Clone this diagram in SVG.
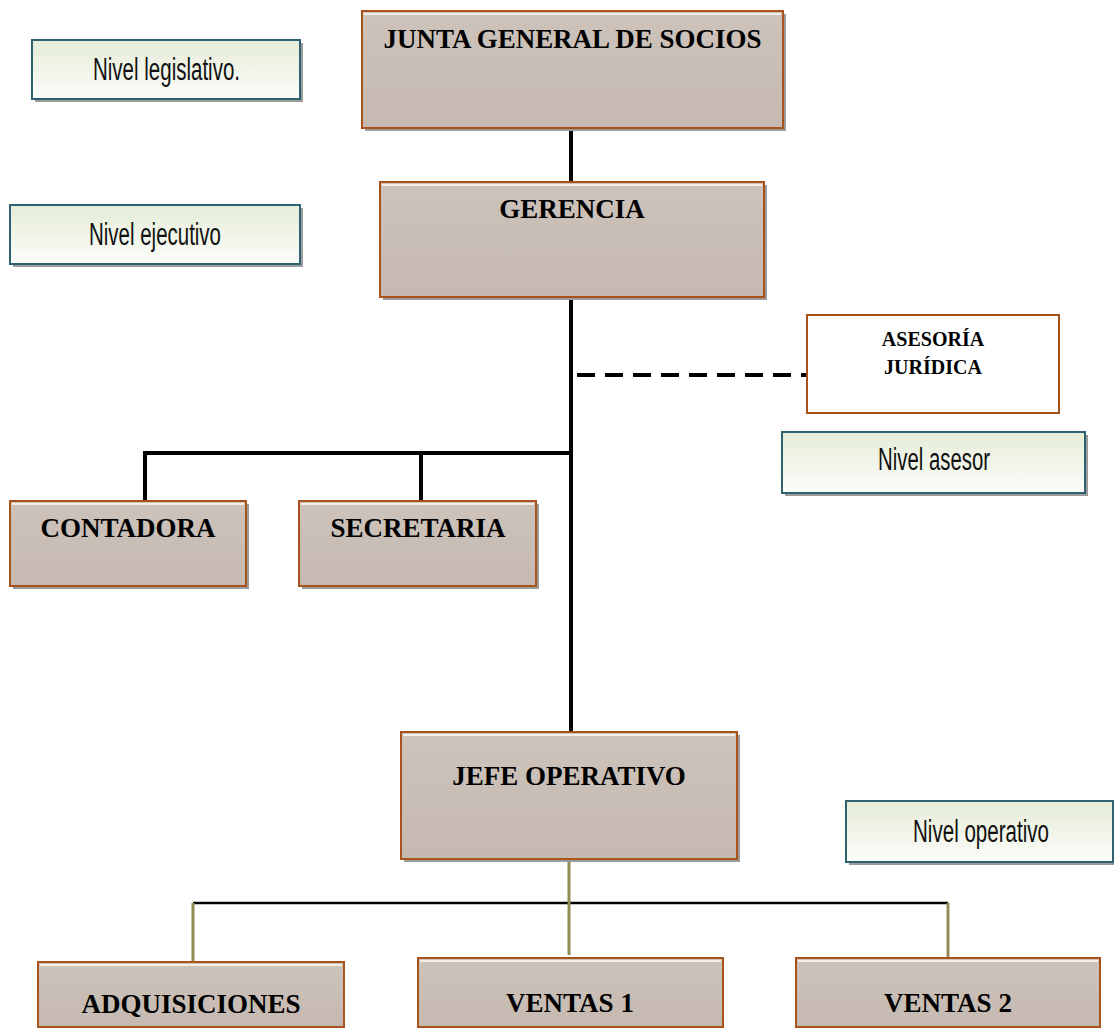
<svg xmlns="http://www.w3.org/2000/svg" width="1114" height="1028" viewBox="0 0 1114 1028">
<defs>
  <linearGradient id="orgFill" x1="0" y1="0" x2="0" y2="1">
    <stop offset="0" stop-color="#cdc3bb"/>
    <stop offset="1" stop-color="#c5b9b1"/>
  </linearGradient>
  <linearGradient id="lvlFill" x1="0" y1="0" x2="0" y2="1">
    <stop offset="0" stop-color="#e5ecd7"/>
    <stop offset="1" stop-color="#fcfdfa"/>
  </linearGradient>
</defs>
<style>
  .shadow { fill: #9c9c9c; }
  .org { fill: url(#orgFill); stroke: #a8531c; stroke-width: 2; }
  .hl { stroke: #f4eee9; stroke-width: 2; }
  .lvl { fill: url(#lvlFill); stroke: #2f6171; stroke-width: 2; }
  .adv { fill: #ffffff; stroke: #a8531c; stroke-width: 2; }
  .t { font-family: "Liberation Serif", "Times New Roman", serif; font-weight: bold; font-size: 27px; fill: #000; text-anchor: middle; }
  .ts { font-family: "Liberation Serif", "Times New Roman", serif; font-weight: bold; font-size: 20px; fill: #000; text-anchor: middle; }
  .lv { font-family: "Liberation Sans", Arial, sans-serif; font-size: 31px; fill: #111; text-anchor: middle; }
  .blk { stroke: #000; stroke-width: 4; fill: none; }
  .olive { stroke: #948a54; stroke-width: 3; fill: none; }
</style>

<g id="connectors">
  <line class="blk" x1="571" y1="128" x2="571" y2="182"/>
  <line class="blk" x1="571" y1="297" x2="571" y2="732"/>
  <line class="blk" x1="577" y1="375" x2="807" y2="375" stroke-dasharray="18 10"/>
  <polyline class="blk" points="145,501 145,453 571,453"/>
  <line class="blk" x1="421" y1="453" x2="421" y2="501"/>
  <line x1="193" y1="903" x2="948" y2="903" stroke="#000" stroke-width="2.5"/>
  <line class="olive" x1="569" y1="860" x2="569" y2="955"/>
  <line class="olive" x1="193" y1="903" x2="193" y2="966"/>
  <line class="olive" x1="948" y1="903" x2="948" y2="966"/>
</g>

<g id="nivel-legislativo">
  <rect class="shadow" x="35" y="43" width="268" height="59"/>
  <rect class="lvl" x="32" y="40" width="268" height="59"/>
  <text class="lv" x="166.5" y="80" textLength="147" lengthAdjust="spacingAndGlyphs">Nivel legislativo.</text>
</g>

<g id="nivel-ejecutivo">
  <rect class="shadow" x="13" y="208" width="290" height="59"/>
  <rect class="lvl" x="10" y="205" width="290" height="59"/>
  <text class="lv" x="155" y="245" textLength="132" lengthAdjust="spacingAndGlyphs">Nivel ejecutivo</text>
</g>

<g id="nivel-asesor">
  <rect class="shadow" x="785" y="435" width="303" height="61"/>
  <rect class="lvl" x="782" y="432" width="303" height="61"/>
  <text class="lv" x="934" y="470" textLength="112" lengthAdjust="spacingAndGlyphs">Nivel asesor</text>
</g>

<g id="nivel-operativo">
  <rect class="shadow" x="849" y="804" width="265" height="61"/>
  <rect class="lvl" x="846" y="801" width="267" height="61"/>
  <text class="lv" x="981" y="842" textLength="136" lengthAdjust="spacingAndGlyphs">Nivel operativo</text>
</g>

<g id="junta">
  <rect class="shadow" x="365" y="14" width="421" height="117"/>
  <rect class="org" x="362" y="11" width="421" height="117"/>
  <line class="hl" x1="364" y1="14" x2="781" y2="14"/>
  <text class="t" x="572.5" y="48" textLength="378" lengthAdjust="spacingAndGlyphs">JUNTA GENERAL DE SOCIOS</text>
</g>

<g id="gerencia">
  <rect class="shadow" x="383" y="185" width="384" height="115"/>
  <rect class="org" x="380" y="182" width="384" height="115"/>
  <line class="hl" x1="382" y1="185" x2="762" y2="185"/>
  <text class="t" x="572" y="218">GERENCIA</text>
</g>

<g id="asesoria">
  <rect class="adv" x="807" y="315" width="252" height="98"/>
  <text class="ts" x="933" y="346">ASESORÍA</text>
  <text class="ts" x="933" y="374">JURÍDICA</text>
</g>

<g id="contadora">
  <rect class="shadow" x="13" y="504" width="236" height="85"/>
  <rect class="org" x="10" y="501" width="236" height="85"/>
  <line class="hl" x1="12" y1="504" x2="244" y2="504"/>
  <text class="t" x="128" y="537">CONTADORA</text>
</g>

<g id="secretaria">
  <rect class="shadow" x="302" y="504" width="237" height="85"/>
  <rect class="org" x="299" y="501" width="237" height="85"/>
  <line class="hl" x1="301" y1="504" x2="534" y2="504"/>
  <text class="t" x="418" y="537">SECRETARIA</text>
</g>

<g id="jefe-operativo">
  <rect class="shadow" x="404" y="735" width="336" height="127"/>
  <rect class="org" x="401" y="732" width="336" height="127"/>
  <line class="hl" x1="403" y1="735" x2="735" y2="735"/>
  <text class="t" x="569" y="785">JEFE OPERATIVO</text>
</g>

<g id="adquisiciones">
  <rect class="org" x="38" y="962" width="306" height="65"/>
  <line class="hl" x1="40" y1="965" x2="342" y2="965"/>
  <text class="t" x="191" y="1013">ADQUISICIONES</text>
</g>

<g id="ventas1">
  <rect class="org" x="418" y="958" width="305" height="69"/>
  <line class="hl" x1="420" y1="961" x2="721" y2="961"/>
  <text class="t" x="570" y="1012">VENTAS 1</text>
</g>

<g id="ventas2">
  <rect class="org" x="796" y="958" width="304" height="69"/>
  <line class="hl" x1="798" y1="961" x2="1098" y2="961"/>
  <text class="t" x="948" y="1012">VENTAS 2</text>
</g>
</svg>
